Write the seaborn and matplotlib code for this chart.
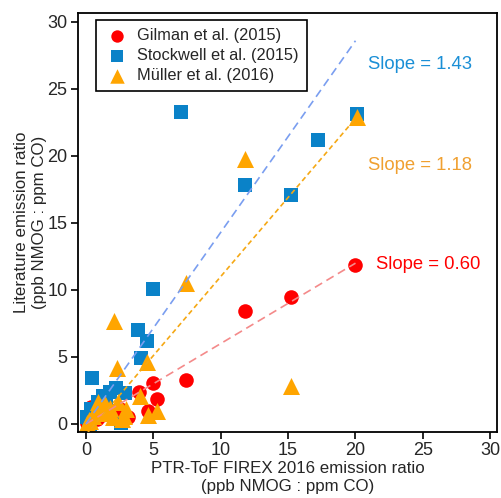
import matplotlib
matplotlib.use("Agg")
import matplotlib.pyplot as plt
import seaborn as sns
import numpy as np
import pandas as pd

# ---- data ----
gilman_x = [20.0, 15.2, 11.8, 7.4, 5.0, 3.9, 5.3, 4.6, 3.1, 0.4, 0.2, 0.6, 1.0, 1.5, 2.0, 0.1, 0.3, 0.8, 1.2, 2.5]
gilman_y = [11.9, 9.5, 8.4, 3.3, 3.05, 2.35, 1.85, 1.0, 0.55, 1.3, 0.3, 0.6, 0.9, 0.8, 1.0, 0.1, 0.5, 0.4, 0.7, 1.1]

stockwell_x = [20.1, 7.05, 17.2, 11.8, 15.2, 5.0, 3.85, 4.5, 4.05, 0.45, 2.25, 2.9, 1.75, 1.25, 0.9, 0.4, 0.1, 2.6, 0.2, 0.6, 1.0, 1.5, 0.3]
stockwell_y = [23.1, 23.3, 21.2, 17.8, 17.1, 10.1, 7.0, 6.2, 4.9, 3.4, 2.65, 2.3, 2.4, 2.05, 1.65, 1.15, 0.5, 0.05, 0.2, 0.9, 1.3, 1.8, 0.0]

muller_x = [20.1, 11.8, 7.4, 2.1, 4.5, 2.3, 15.2, 5.3, 4.6, 4.0, 2.65, 0.9, 1.4, 1.8, 2.4, 3.0, 0.2, 0.5, 0.7, 1.1, 1.6, 2.0, 0.3, 1.2, 2.8, 0.1]
muller_y = [22.9, 19.75, 10.5, 7.7, 4.6, 4.2, 2.8, 1.0, 0.65, 2.1, 0.4, 1.65, 1.5, 1.2, 1.65, 1.1, 0.3, 0.6, 1.0, 1.3, 0.9, 0.5, 0.2, 0.8, 0.6, 0.05]

series_names = ["Gilman et al. (2015)", "Stockwell et al. (2015)", "Müller et al. (2016)"]
slopes = [0.60, 1.43, 1.18]
intercepts = [0.0, 0.0, -0.8]
fit_x_range = [0.0, 20.0]
slope_labels = ["Slope = 0.60", "Slope = 1.43", "Slope = 1.18"]

ticks = [0, 5, 10, 15, 20, 25, 30]

# ---- style ----
sns.set_style("ticks")
plt.rcParams['font.family'] = ['Liberation Sans', 'DejaVu Sans']

marker_colors = ["#ff0000", "#0a82c8", "#ffa500"]
line_colors = ["#f48a8a", "#7a9ef0", "#f5a814"]
text_colors = ["#ff0000", "#1a8fd6", "#f0a030"]
markers = ["o", "s", "^"]
sizes = [110, 110, 150]

fig = plt.figure(figsize=(5.01, 4.98), dpi=100)
ax = fig.add_axes([78/501, 1-432/498, (497-78)/501, (432-13)/498])

xs = [gilman_x, stockwell_x, muller_x]
ys = [gilman_y, stockwell_y, muller_y]

for i in range(3):
    df = pd.DataFrame({"x": xs[i], "y": ys[i]})
    sns.scatterplot(data=df, x="x", y="y", ax=ax, marker=markers[i],
                    color=marker_colors[i], s=sizes[i], linewidth=0,
                    label=series_names[i], zorder=2 + i * 0.1)

dash_styles = [(0, (5, 3)), (0, (5, 3)), (0, (3, 2))]
for i in range(3):
    fx = np.array(fit_x_range)
    fy = slopes[i] * fx + intercepts[i]
    sns.lineplot(x=fx, y=fy, ax=ax, color=line_colors[i], linewidth=1.2,
                 linestyle=dash_styles[i], zorder=3, legend=False)

# slope annotations
ax.text(21.5, 11.9, slope_labels[0], color=text_colors[0], fontsize=13.3, va="center", ha="left")
ax.text(20.9, 26.8, slope_labels[1], color=text_colors[1], fontsize=13.3, va="center", ha="left")
ax.text(20.9, 19.3, slope_labels[2], color=text_colors[2], fontsize=13.3, va="center", ha="left")

ax.set_xlim(-0.59, 30.5)
ax.set_ylim(-0.6, 30.67)
ax.set_xticks(ticks)
ax.set_yticks(ticks)
ax.tick_params(axis="both", labelsize=13, direction="out", length=5, width=1.2,
               color="black", pad=2.5)
for sp in ax.spines.values():
    sp.set_visible(True)
    sp.set_linewidth(1.3)
    sp.set_color("black")

ax.set_xlabel("PTR-ToF FIREX 2016 emission ratio\n(ppb NMOG : ppm CO)", fontsize=12.2,
              linespacing=1.3, labelpad=1)
ax.set_ylabel("Literature emission ratio\n(ppb NMOG : ppm CO)", fontsize=12.2,
              linespacing=1.3, labelpad=0)

leg = ax.legend(loc="upper left", bbox_to_anchor=(0.043, 0.983), fontsize=11.8,
                frameon=True, fancybox=False, edgecolor="black", framealpha=1,
                borderpad=0.5, handletextpad=0.4, labelspacing=0.3,
                markerscale=0.85, borderaxespad=0, handlelength=1.6)
leg.get_frame().set_linewidth(1.2)

fig.savefig("out.png", dpi=100)
